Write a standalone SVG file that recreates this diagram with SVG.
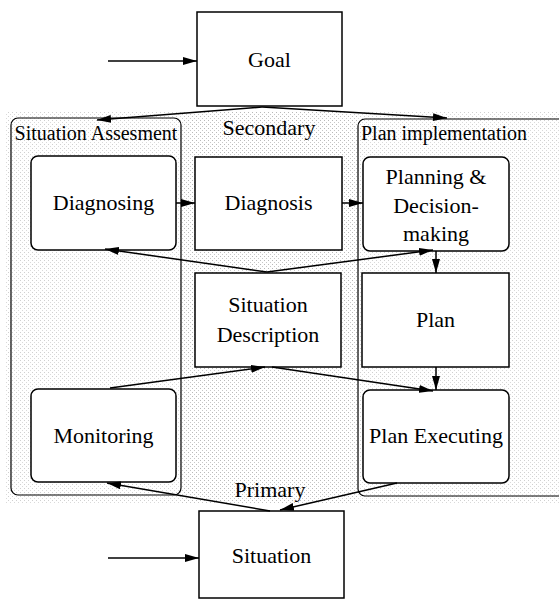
<svg xmlns="http://www.w3.org/2000/svg" width="559" height="600" viewBox="0 0 559 600">
<defs>
<style>
.node{fill:#fff;stroke:#000;stroke-width:1.5}
.grp{fill:none;stroke:#000;stroke-width:1.2}
.t{font-size:22px;text-anchor:middle;fill:#000}
.g{font-size:20px;fill:#000}
.e{fill:none;stroke:#000;stroke-width:1.5;marker-end:url(#ah)}
</style>
<marker id="ah" viewBox="0 0 14 8" refX="14" refY="4" markerWidth="14" markerHeight="8" markerUnits="userSpaceOnUse" orient="auto">
<path d="M0,0 L14,4 L0,8 z" fill="#000"/>
</marker>
<pattern id="dots" width="4" height="4" patternUnits="userSpaceOnUse">
<rect width="4" height="4" fill="#fff"/>
<rect x="0" y="0" width="1" height="1" fill="#aaa"/>
<rect x="2" y="2" width="1" height="1" fill="#bbb"/>
</pattern>
</defs>
<rect width="559" height="600" fill="#fff"/>
<rect x="5" y="112" width="554" height="392" fill="url(#dots)" opacity="0.55"/>
<rect x="181" y="112" width="177" height="392" fill="url(#dots)" opacity="0.6"/>

<g id="group-situation-assessment">
<rect class="grp" x="11" y="118" width="170" height="377" rx="7"/>
<text class="g" x="96" y="140" text-anchor="middle" font-family="Liberation Serif, serif">Situation Assesment</text>
</g>
<g id="group-plan-implementation">
<rect class="grp" x="358" y="119" width="215" height="377" rx="7"/>
<text class="g" x="361" y="140" font-family="Liberation Serif, serif">Plan implementation</text>
</g>
<g id="label-secondary"><text class="t" x="269" y="135" font-family="Liberation Serif, serif">Secondary</text></g>
<g id="label-primary"><text class="t" x="270" y="497" font-family="Liberation Serif, serif">Primary</text></g>

<g id="goal"><rect class="node" x="197" y="12" width="145" height="94"/><text class="t" x="269.5" y="67" font-family="Liberation Serif, serif">Goal</text></g>
<g id="diagnosing"><rect class="node" x="31" y="156" width="145" height="94" rx="7"/><text class="t" x="103.5" y="210" font-family="Liberation Serif, serif">Diagnosing</text></g>
<g id="diagnosis"><rect class="node" x="195" y="157" width="147" height="93"/><text class="t" x="268.5" y="210" font-family="Liberation Serif, serif">Diagnosis</text></g>
<g id="planning" font-family="Liberation Serif, serif"><rect class="node" x="363" y="157" width="146" height="94" rx="7"/><text class="t" x="436" y="184" font-family="Liberation Serif, serif">Planning &amp;</text><text class="t" x="436" y="213" font-family="Liberation Serif, serif">Decision-</text><text class="t" x="436" y="241" font-family="Liberation Serif, serif">making</text></g>
<g id="situation-description"><rect class="node" x="195" y="273" width="146" height="94"/><text class="t" x="268" y="312" font-family="Liberation Serif, serif">Situation</text><text class="t" x="268" y="342" font-family="Liberation Serif, serif">Description</text></g>
<g id="plan"><rect class="node" x="362" y="273" width="147" height="94"/><text class="t" x="435.5" y="327" font-family="Liberation Serif, serif">Plan</text></g>
<g id="monitoring"><rect class="node" x="31" y="389" width="145" height="93" rx="7"/><text class="t" x="103.5" y="443" font-family="Liberation Serif, serif">Monitoring</text></g>
<g id="plan-executing"><rect class="node" x="363" y="390" width="146" height="93" rx="7"/><text class="t" x="436" y="443" font-family="Liberation Serif, serif">Plan Executing</text></g>
<g id="situation"><rect class="node" x="199" y="511" width="145" height="87"/><text class="t" x="271.5" y="563" font-family="Liberation Serif, serif">Situation</text></g>

<g id="connectors">
<line class="e" x1="108" y1="61" x2="197" y2="61"/>
<line class="e" x1="108" y1="558" x2="199" y2="558"/>
<line class="e" x1="262" y1="107" x2="97" y2="120"/>
<line class="e" x1="262" y1="107" x2="447" y2="118"/>
<line class="e" x1="176" y1="203" x2="195" y2="203"/>
<line class="e" x1="342" y1="203" x2="363" y2="203"/>
<line class="e" x1="267" y1="272" x2="105" y2="249"/>
<line class="e" x1="267" y1="272" x2="433" y2="250"/>
<line class="e" x1="436" y1="251" x2="436" y2="273"/>
<line class="e" x1="436" y1="367" x2="436" y2="390"/>
<line class="e" x1="110" y1="388" x2="265" y2="367"/>
<line class="e" x1="272" y1="367" x2="433" y2="391"/>
<line class="e" x1="270" y1="511" x2="107" y2="483"/>
<line class="e" x1="397" y1="483" x2="280" y2="510"/>
</g>
</svg>
